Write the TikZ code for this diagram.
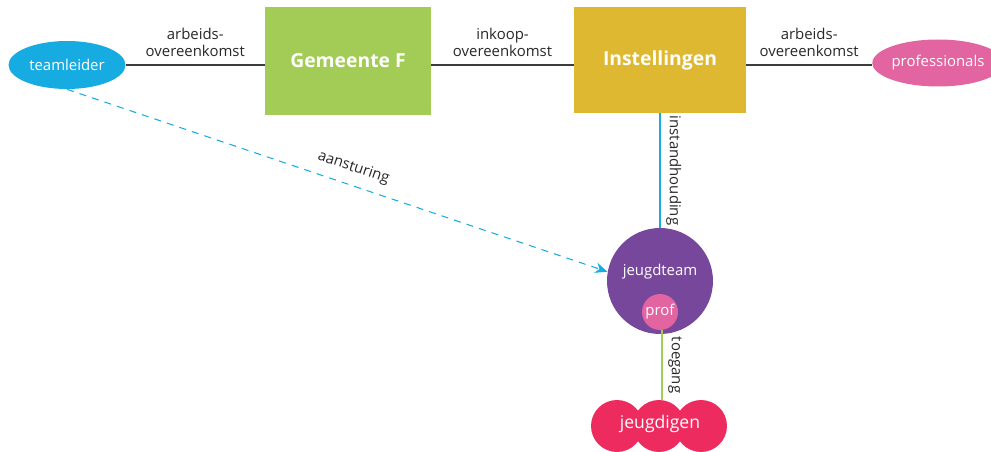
\documentclass[tikz,border=0pt]{standalone}
\usepackage{fontspec}
\setmainfont{Open Sans}
\usetikzlibrary{arrows,arrows.meta}
\usetikzlibrary{shapes.geometric}
\definecolor{lijn}{RGB}{60,60,60}
\definecolor{blauw}{RGB}{22,172,226}
\definecolor{groen}{RGB}{163,204,87}
\definecolor{geel}{RGB}{222,184,48}
\definecolor{roze}{RGB}{226,100,160}
\definecolor{paars}{RGB}{119,71,155}
\definecolor{rood}{RGB}{238,43,95}
\definecolor{tekst}{RGB}{40,40,40}

\begin{document}
\begin{tikzpicture}[x=0.02cm,y=-0.02cm,
    font=\fontsize{8.5}{10}\selectfont,
    ell/.style={ellipse,inner sep=0pt,text=white,minimum width=2.34cm,minimum height=0.96cm},
    blok/.style={rectangle,inner sep=0pt,text=white,font=\fontsize{11}{13}\bfseries\selectfont},
    circ/.style={circle,inner sep=0pt,text=white},
    lbl/.style={text=tekst,align=center,font=\fontsize{8.5}{10}\selectfont},
    verb/.style={lijn,line width=0.6pt}]
    \useasboundingbox (0,0) rectangle (991,452);

    % bovenste rij
    \node [ell,fill=blauw] (tl) at (67,65) {teamleider};
    \node [blok,fill=groen,minimum width=3.32cm,minimum height=2.16cm] (gem) at (348,61) {Gemeente F};
    \node [blok,fill=geel,minimum width=3.44cm,minimum height=2.12cm] (inst) at (660,60) {Instellingen};
    \node [ell,fill=roze,minimum width=2.3cm,minimum height=0.94cm] (prof) at (938,63) {professionals};

    \draw [verb] (tl.east) -- (tl.east -| gem.west)
        node [lbl,midway,above=1pt] {arbeids-\\overeenkomst};
    \draw [verb] (gem.east |- tl) -- (inst.west |- tl)
        node [lbl,midway,above=1pt] {inkoop-\\overeenkomst};
    \draw [verb] (inst.east |- tl) -- (prof.west |- tl)
        node [lbl,midway,above=1pt] {arbeids-\\overeenkomst};

    % jeugdteam
    \node [circ,fill=paars,minimum size=2.12cm] (jt) at (660,281) {};
    \node [text=white] (jtl) at (660,272) {jeugdteam};
    \node [circ,fill=roze,minimum size=0.72cm] (pr) at (660,312) {prof};

    \draw [blauw,line width=0.6pt] (inst.south) -- (jt.north)
        node [lbl,midway,sloped,above=0pt] {instandhouding};

    % jeugdigen
    \node [circ,fill=rood,minimum size=1.04cm] (j1) at (617,426) {};
    \node [circ,fill=rood,minimum size=1.04cm] (j3) at (701,426) {};
    \node [circ,fill=rood,minimum size=1.04cm] (j2) at (659,426) {};
    \node [text=white,font=\fontsize{10}{12}\selectfont] (jg) at (660,424) {jeugdigen};

    \draw [groen,line width=0.6pt] (pr.south -| 662,0) -- (j2.north -| 662,0)
        node [lbl,midway,sloped,above=0pt] {toegang};

    % aansturing
    \draw [blauw,dash pattern=on 4pt off 3.5pt,line width=0.6pt,-{Stealth[length=7pt,width=6pt]}] (tl.south) -- (jt.170)
        node [lbl,pos=0.52,sloped,above=2pt] {aansturing};
\end{tikzpicture}
\end{document}
